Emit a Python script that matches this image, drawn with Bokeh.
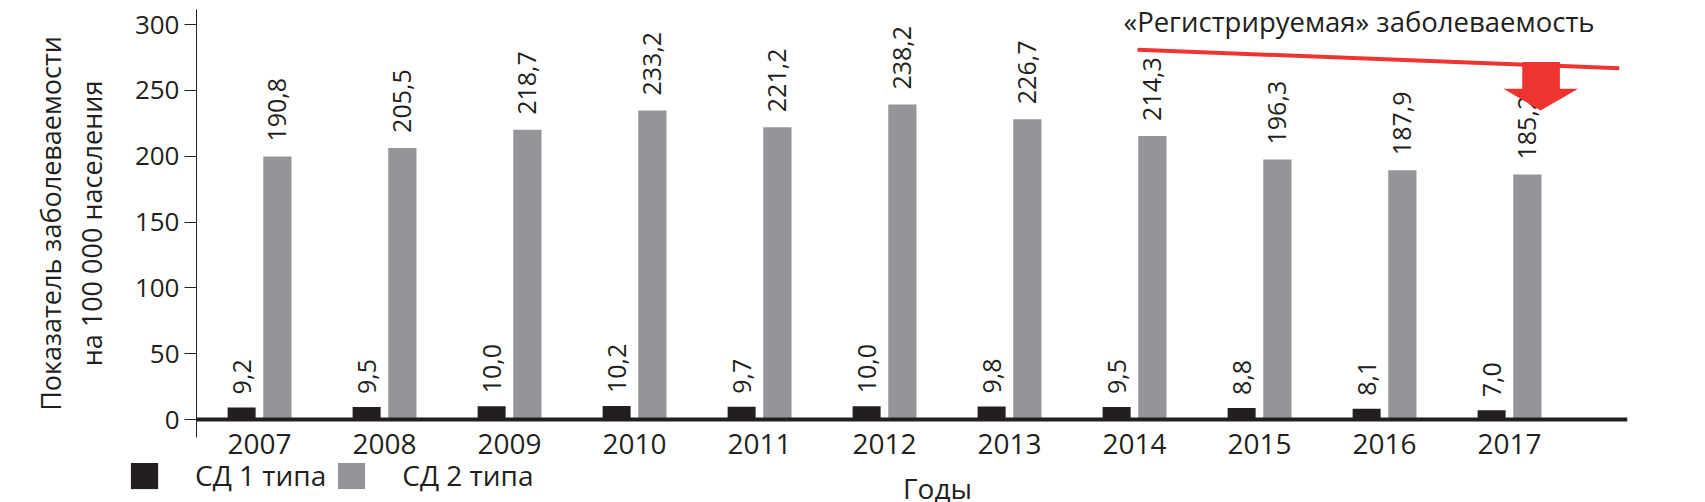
import math
from bokeh.plotting import figure
from bokeh.layouts import column
from bokeh.models import Range1d, FixedTicker, Span, Legend, LegendItem, ColumnDataSource
from bokeh.core.properties import value
from bokeh.embed import file_html
from bokeh.resources import INLINE

# ---------------- data ----------------
years = ["2007", "2008", "2009", "2010", "2011", "2012", "2013", "2014", "2015", "2016", "2017"]
t1_values = [9.2, 9.5, 10.0, 10.2, 9.7, 10.0, 9.8, 9.5, 8.8, 8.1, 7.0]
t2_values = [190.8, 205.5, 218.7, 233.2, 221.2, 238.2, 226.7, 214.3, 196.3, 187.9, 185.2]
t2_drawn = [199.7, 206.3, 220.0, 234.7, 222.0, 239.2, 228.1, 215.4, 197.5, 189.4, 186.1]
y_ticks = [0, 50, 100, 150, 200, 250, 300]
series_names = ["СД 1 типа", "СД 2 типа"]
x_title = "Годы"
trend_title = "«Регистрируемая» заболеваемость"
# trend annotation (red line + arrow), in axis coordinates
trend_x = [7.024, 10.878]
trend_y = [280.8, 266.8]
arrow_x = [10.102, 10.403, 10.403, 10.550, 10.248, 9.952, 10.102]
arrow_y = [271.5, 271.5, 251.2, 251.2, 234.7, 251.2, 251.2]

BLACK = "#231F20"
GREY = "#939598"
RED = "#EE3431"
FONT = "Open Sans"

def fmt(v):
    return f"{v:.1f}".replace(".", ",")

idx = list(range(len(years)))
off = 0.143
src = ColumnDataSource(dict(
    x1=[i - off for i in idx], x2=[i + off for i in idx],
    t1=t1_values, t2=t2_drawn,
    l1=[fmt(v) for v in t1_values], l2=[fmt(v) for v in t2_values],
))

TOP_H = 463
p = figure(width=1705, height=TOP_H, output_backend="svg", toolbar_location=None,
           x_range=Range1d(-0.504, 10.944), y_range=Range1d(-13.67, 311.4),
           min_border_left=196, min_border_right=78, min_border_top=9, min_border_bottom=TOP_H - 437)
p.outline_line_color = None
p.grid.visible = False
p.background_fill_color = "white"
p.frame_align = False

r1 = p.vbar(x="x1", top="t1", bottom=0, width=0.224, source=src, fill_color=BLACK, line_color=None)
r2 = p.vbar(x="x2", top="t2", bottom=0, width=0.226, source=src, fill_color=GREY, line_color=None)

p.add_layout(Span(location=0, dimension="width", line_color=BLACK, line_width=4))

p.text(x="x1", y="t1", text="l1", source=src, angle=math.pi / 2, text_align="left",
       text_baseline="middle", y_offset=-13, text_font=value(FONT), text_font_size="25px",
       text_color=BLACK)
p.text(x="x2", y="t2", text="l2", source=src, angle=math.pi / 2, text_align="left",
       text_baseline="middle", y_offset=-15, text_font=value(FONT), text_font_size="25px",
       text_color=BLACK)

# trend annotation
p.line(x=trend_x, y=trend_y, line_color=RED, line_width=4)
p.patch(x=arrow_x, y=arrow_y, fill_color=RED, line_color=None)
p.text(x=[6.912], y=[292.9], y_offset=-12, text=[trend_title], text_align="left",
       text_baseline="alphabetic", text_font=value(FONT), text_font_size="27.5px", text_color=BLACK)

# y axis
ya = p.yaxis[0]
ya.ticker = FixedTicker(ticks=y_ticks)
ya.major_tick_out = 12
ya.major_tick_in = 0
ya.minor_tick_line_color = None
ya.axis_line_color = BLACK
ya.major_tick_line_color = BLACK
ya.major_label_text_font = FONT
ya.major_label_text_font_size = "26px"
ya.major_label_text_color = BLACK
ya.major_label_standoff = 5
ya.axis_label = "Показатель заболеваемости\nна 100 000 населения"
ya.axis_label_text_font = FONT
ya.axis_label_text_font_size = "27px"
ya.axis_label_text_font_style = "normal"
ya.axis_label_text_color = BLACK
ya.axis_label_text_line_height = 1.1
ya.axis_label_standoff = 22

# x axis (years)
xa = p.xaxis[0]
xa.ticker = FixedTicker(ticks=idx)
xa.major_label_overrides = {i: y for i, y in zip(idx, years)}
xa.axis_line_color = None
xa.major_tick_line_color = None
xa.minor_tick_line_color = None
xa.major_label_text_font = FONT
xa.major_label_text_font_size = "28px"
xa.major_label_text_color = BLACK
xa.major_label_standoff = -10

# ---------------- bottom strip: legend + x title ----------------
BOT_H = 502 - TOP_H
b = figure(width=1705, height=BOT_H, output_backend="svg", toolbar_location=None, title=None,
           x_range=Range1d(0, 1705), y_range=Range1d(BOT_H, 0),
           min_border=0, x_axis_type=None, y_axis_type=None)
b.outline_line_color = None
b.grid.visible = False
b.frame_align = False
# zero-height bars: only used to supply the legend swatches
l1 = b.vbar(x="x1", top=0, bottom=0, width=0.224, source=src, fill_color=BLACK, line_color=None)
l2 = b.vbar(x="x2", top=0, bottom=0, width=0.226, source=src, fill_color=GREY, line_color=None)
legend = Legend(items=[LegendItem(label=series_names[0], renderers=[l1]),
                       LegendItem(label=series_names[1], renderers=[l2])],
                orientation="horizontal", location=(127, 8),
                glyph_width=34, glyph_height=34, label_height=34, label_standoff=34, spacing=8,
                padding=0, margin=0, border_line_color=None, background_fill_alpha=0,
                label_text_font=FONT, label_text_font_size="28px", label_text_color=BLACK)
b.add_layout(legend, "center")
b.text(x=[937], y=[487 - TOP_H], text=[x_title], text_align="center", text_baseline="alphabetic",
       text_font=value(FONT), text_font_size="28px", text_color=BLACK)

layout = column(p, b, spacing=0)
open("out.html", "w").write(file_html(layout, INLINE))
